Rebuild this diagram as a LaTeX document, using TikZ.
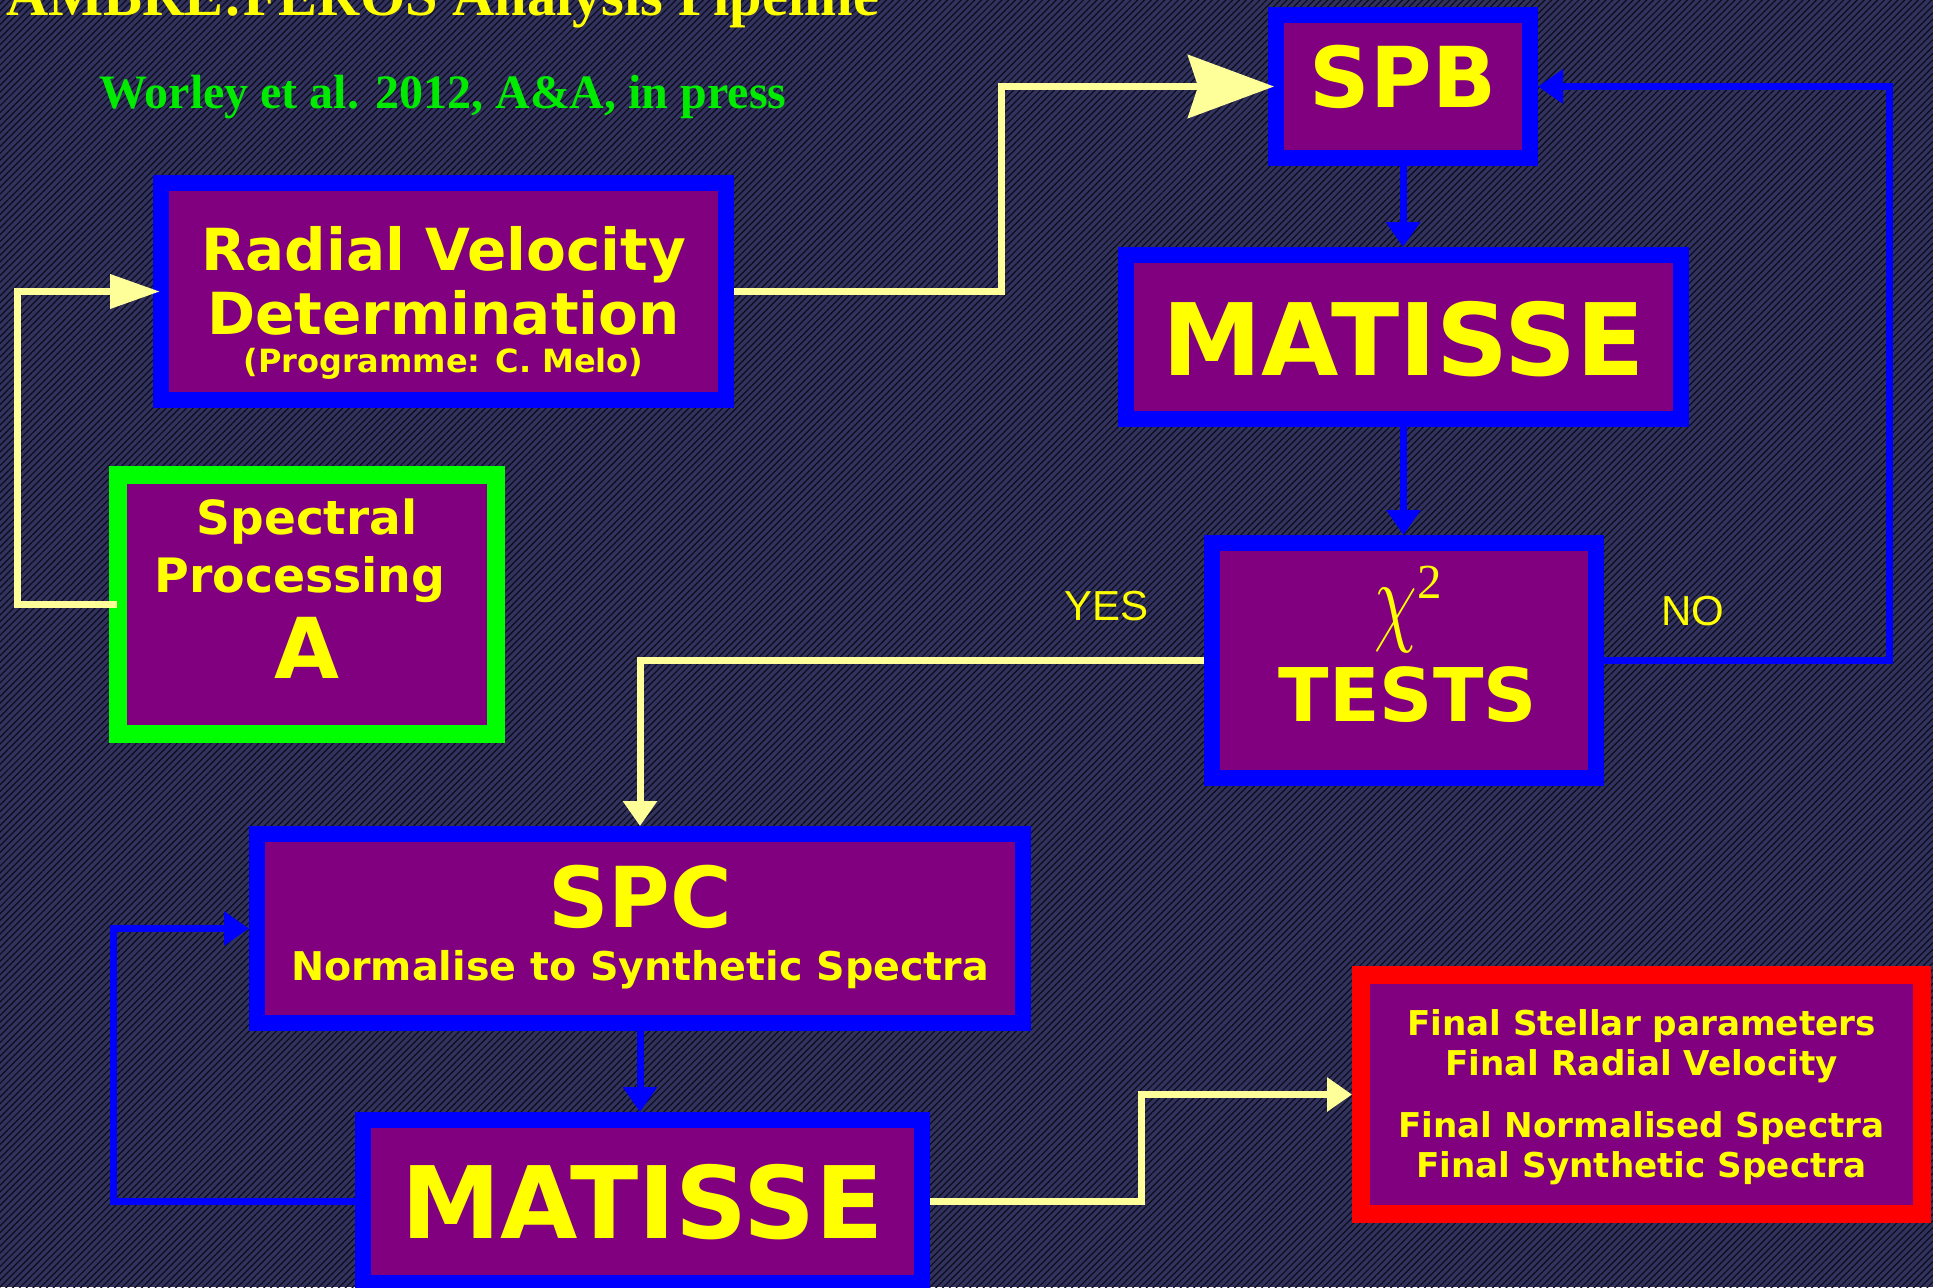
\documentclass[tikz,border=0pt]{standalone}
\usepackage{graphicx}
\usepackage{fontspec}
\usetikzlibrary{arrows.meta,patterns.meta}
\newfontfamily\boxfont{DejaVu Sans}
\newfontfamily\serifont{Liberation Serif}
\newfontfamily\lblfont{Liberation Sans}
\definecolor{bgc}{RGB}{50,50,94}
\definecolor{stripe}{RGB}{12,12,28}
\definecolor{boxpurple}{RGB}{128,0,128}
\definecolor{boxblue}{RGB}{0,0,255}
\definecolor{boxyellow}{RGB}{255,255,0}
\definecolor{lineyellow}{RGB}{255,255,153}
\definecolor{boxgreen}{RGB}{0,255,0}
\definecolor{refgreen}{RGB}{0,235,0}
\definecolor{boxred}{RGB}{255,0,0}
\newcommand\bxf[1]{\boxfont\bfseries\fontsize{#1}{#1}\selectfont}
\newcommand\lift[2]{\raisebox{#1}[\height][\depth]{#2}}
\newcommand\rows[1]{\vbox{\baselineskip=0pt\lineskip=0pt\lineskiplimit=-\maxdimen\halign{\hfil##\hfil\cr#1\crcr}}}
\newcommand\row[1]{\smash{#1}}
\tikzset{
  box/.style={rectangle, fill=boxpurple, draw=boxblue, line width=8pt, outer sep=4pt, inner sep=0pt, text=boxyellow},
  greenbox/.style={box, draw=boxgreen, line width=9pt, outer sep=4.5pt},
  redbox/.style={box, draw=boxred, line width=9pt, outer sep=4.5pt},
  yline/.style={draw=lineyellow, line width=3.5pt},
  bline/.style={draw=boxblue, line width=3.5pt},
  tri/.style={-{Triangle[length=12.5pt,width=16.5pt]}},
  lbl/.style={inner sep=0pt, text=boxyellow, font=\lblfont\fontsize{21pt}{21pt}\selectfont}
}
\begin{document}
\begin{tikzpicture}[x=0.5pt,y=-0.5pt]
\useasboundingbox (0,0) rectangle (1933,1287);
\fill[bgc] (0,0) rectangle (1933,1287);
\fill[pattern={Lines[angle=45,distance=2.4pt,line width=0.6pt]}, pattern color=stripe] (0,0) rectangle (1933,1287);

% title texts
\node[anchor=base west, inner sep=0pt, text=boxyellow, font=\serifont\bfseries\fontsize{29.2pt}{29.2pt}\selectfont] (title) at (6,15) {AMBRE:FEROS Analysis Pipeline};
\node[anchor=base west, inner sep=0pt, text=refgreen, font=\serifont\bfseries\fontsize{24pt}{24pt}\selectfont] (ref) at (99,108) {Worley et al. 2012, A\&A, in press};

% boxes
\node[box, minimum width=127pt, minimum height=71.5pt] (SPB) at (1403,86.5)
  {\lift{-10.25pt}{\rows{\row{\bxf{42pt}SPB}}}};
\node[box, minimum width=277.5pt, minimum height=82pt] (MAT1) at (1403.5,337)
  {\lift{-19pt}{\rows{\row{\bxf{50pt}MATISSE}}}};
\node[box, minimum width=192pt, minimum height=117.5pt] (TESTS) at (1404,660.5)
  {\lift{-8pt}{\rows{\row{\kern4pt\scalebox{3.4}[5.1]{$\chi$}\raisebox{17pt}{\serifont\fontsize{24.5pt}{24.5pt}\selectfont 2}}\cr
   \noalign{\vskip44.5pt}\row{\kern4pt\bxf{37pt}TESTS}}}};
\node[box, minimum width=282.5pt, minimum height=108.5pt] (RV) at (443.5,291.5)
  {\lift{-14.75pt}{\rows{\row{\bxf{29pt}Radial Velocity}\cr
   \noalign{\vskip32pt}\row{\bxf{29pt}Determination}\cr
   \noalign{\vskip19pt}\row{\bxf{16pt}(Programme: C. Melo)}}}};
\node[greenbox, minimum width=189pt, minimum height=129.5pt] (SP) at (307,604.5)
  {\lift{-0.75pt}{\rows{\row{\bxf{23.5pt}Spectral}\cr
   \noalign{\vskip29pt}\row{\bxf{23.7pt}Processing\kern7pt}\cr
   \noalign{\vskip43pt}\row{\bxf{42pt}A}}}};
\node[box, minimum width=383pt, minimum height=94.5pt] (SPC) at (640,928.5)
  {\lift{-12.5pt}{\rows{\row{\bxf{42pt}SPC}\cr
   \noalign{\vskip26.5pt}\row{\bxf{19.8pt}Normalise to Synthetic Spectra}}}};
\node[box, minimum width=279.5pt, minimum height=81.5pt] (MAT2) at (642.5,1201.5)
  {\lift{-18.25pt}{\rows{\row{\bxf{50pt}MATISSE}}}};
\node[redbox, minimum width=280.5pt, minimum height=119.5pt] (FINAL) at (1641.5,1094.5)
  {\lift{-5.75pt}{\rows{\row{\bxf{17.1pt}Final Stellar parameters}\cr
   \noalign{\vskip20pt}\row{\bxf{17.1pt}Final Radial Velocity}\cr
   \noalign{\vskip31pt}\row{\bxf{17.1pt}Final Normalised Spectra}\cr
   \noalign{\vskip20pt}\row{\bxf{17.1pt}Final Synthetic Spectra}}}};

% connectors
\draw[yline, -{Stealth[length=43pt,width=31.5pt,inset=5pt]}, shorten >=-3pt] (RV.east) -- ++(267,0) |- (SPB.west);
\draw[yline, -{Triangle[length=25pt,width=16.5pt]}, shorten <=-4pt, shorten >=-3.5pt] (SP.west) -- ++(-91.5,0) |- (RV.west);
\draw[bline, tri] (SPB.south) -- (SPB.south |- MAT1.north);
\draw[bline, tri] (MAT1.south) -- (MAT1.south |- TESTS.north);
\draw[bline, tri] (TESTS.east) -- ++(285,0) |- (SPB.east);
\draw[yline, tri] (TESTS.west) -| (SPC.north);
\draw[bline, tri] (SPC.south) -- (SPC.south |- MAT2.north);
\draw[bline, tri] (MAT2.west) -- ++(-242,0) |- (SPC.west);
\draw[yline, tri] (MAT2.east) -- ++(211,0) |- (FINAL.west);

% labels
\node[lbl, anchor=base] (yes) at (1106.5,620) {YES};
\node[lbl, anchor=base] (no) at (1692.5,625) {NO};
\end{tikzpicture}
\end{document}
